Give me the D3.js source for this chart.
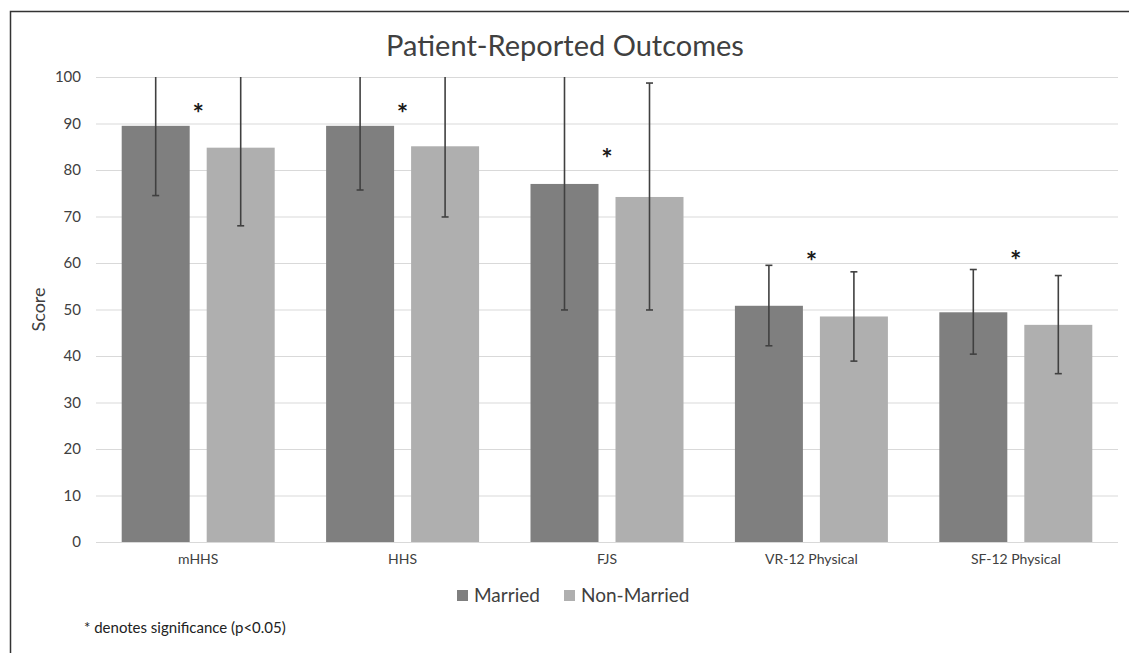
<!DOCTYPE html>
<html><head><meta charset="utf-8">
<script src="https://cdn.jsdelivr.net/npm/d3@7"></script>
<style>body{margin:0;background:#fff;} svg{display:block;font-family:Lato,"Open Sans",sans-serif;}</style>
</head><body>
<svg id="c" width="1129" height="653"></svg>
<script>
const categories = ["mHHS","HHS","FJS","VR-12 Physical","SF-12 Physical"];
const seriesNames = ["Married","Non-Married"];
const marriedMean = [89.5, 89.5, 77.0, 50.8, 49.4];
const marriedLow  = [74.5, 75.7, 49.9, 42.2, 40.4];
const marriedHigh = [104.5, 103.3, 104.1, 59.5, 58.6];
const nonMean = [84.8, 85.1, 74.2, 48.5, 46.7];
const nonLow  = [68.0, 69.9, 49.9, 38.9, 36.2];
const nonHigh = [101.6, 100.3, 98.7, 58.1, 57.3];
const starY = [93.3, 93.3, 83.7, 61.5, 61.7];
const yTicks = [0,10,20,30,40,50,60,70,80,90,100];
const colors = ["#7f7f7f","#afafaf"];

const svg = d3.select("#c");
svg.append("rect").attr("x",10.5).attr("y",11.5).attr("width",1140).attr("height",660)
  .attr("fill","none").attr("stroke","#333").attr("stroke-width",1.5);

const L=96, R=1118, T=77, B=542;
const x = d3.scaleBand().domain(categories).range([L,R]).paddingInner(0.2515).paddingOuter(0.1257);
const xs = d3.scaleBand().domain(seriesNames).range([0,x.bandwidth()]).paddingInner(0.2);
const y = d3.scaleLinear().domain([0,100]).range([B,T]);

svg.append("text").attr("x",565).attr("y",56).attr("text-anchor","middle")
  .attr("font-size",29).attr("fill","#404040").text("Patient-Reported Outcomes");

const g = svg.append("g");
g.selectAll("line.grid").data(yTicks).join("line")
  .attr("x1",L).attr("x2",R).attr("y1",d=>y(d)+0.5).attr("y2",d=>y(d)+0.5)
  .attr("stroke","#d9d9d9").attr("stroke-width",1.2);

const yAxis = d3.axisLeft(y).tickValues(yTicks).tickSize(0).tickPadding(15);
const ya = svg.append("g").attr("transform",`translate(${L},0)`).call(yAxis);
ya.select(".domain").remove();
ya.selectAll("text").attr("font-size",15).attr("fill","#404040").attr("font-family","Lato,sans-serif");

svg.append("text").attr("transform",`translate(45,${(T+B)/2}) rotate(-90)`).attr("text-anchor","middle")
  .attr("font-size",18).attr("fill","#404040").text("Score");

const series = [
  {name:"Married", mean:marriedMean, lo:marriedLow, hi:marriedHigh},
  {name:"Non-Married", mean:nonMean, lo:nonLow, hi:nonHigh}
];
svg.append("defs").append("clipPath").attr("id","pc").append("rect")
  .attr("x",0).attr("y",T).attr("width",1129).attr("height",B-T+5);

series.forEach((s,si)=>{
  const data = categories.map((c,i)=>({c,i,v:s.mean[i],lo:s.lo[i],hi:s.hi[i]}));
  g.selectAll("rect.s"+si).data(data).join("rect")
    .attr("x",d=>x(d.c)+xs(s.name)).attr("width",xs.bandwidth())
    .attr("y",d=>y(d.v)).attr("height",d=>y(0)-y(d.v)).attr("fill",colors[si]);
});
const eg = svg.append("g").attr("clip-path","url(#pc)");
series.forEach((s,si)=>{
  const data = categories.map((c,i)=>({c,i,v:s.mean[i],lo:s.lo[i],hi:s.hi[i]}));
  const cx = d=>x(d.c)+xs(s.name)+xs.bandwidth()/2;
  eg.selectAll("line.e"+si).data(data).join("line")
    .attr("x1",cx).attr("x2",cx).attr("y1",d=>y(d.lo)).attr("y2",d=>y(d.hi))
    .attr("stroke","#404040").attr("stroke-width",1.6);
  eg.selectAll("line.cl"+si).data(data).join("line")
    .attr("x1",d=>cx(d)-3.5).attr("x2",d=>cx(d)+3.5).attr("y1",d=>y(d.lo)).attr("y2",d=>y(d.lo))
    .attr("stroke","#404040").attr("stroke-width",1.6);
  eg.selectAll("line.ch"+si).data(data.filter(d=>d.hi<=100)).join("line")
    .attr("x1",d=>cx(d)-3.5).attr("x2",d=>cx(d)+3.5).attr("y1",d=>y(d.hi)).attr("y2",d=>y(d.hi))
    .attr("stroke","#404040").attr("stroke-width",1.6);
});

svg.selectAll("text.star").data(categories).join("text")
  .attr("x",c=>x(c)+x.bandwidth()/2).attr("y",(c,i)=>y(starY[i])+15)
  .attr("text-anchor","middle").attr("font-size",27).attr("font-weight","bold").attr("fill","#1a1a1a").text("*");

const xAxis = d3.axisBottom(x).tickSize(0).tickPadding(12);
const xa = svg.append("g").attr("transform",`translate(0,${B})`).call(xAxis);
xa.select(".domain").remove();
xa.selectAll("text").attr("font-size",14).attr("fill","#404040").attr("font-family","Lato,sans-serif");

const legend = svg.append("g").attr("transform","translate(457,596)");
const lx = [0,107];
seriesNames.forEach((n,i)=>{
  legend.append("rect").attr("x",lx[i]).attr("y",-6).attr("width",11).attr("height",11).attr("fill",colors[i]);
  legend.append("text").attr("x",lx[i]+17).attr("y",6).attr("font-size",19).attr("fill","#404040").text(n);
});

svg.append("text").attr("x",84).attr("y",633).attr("font-size",15).attr("fill","#222")
  .text("* denotes significance (p<0.05)");
</script>
</body></html>
